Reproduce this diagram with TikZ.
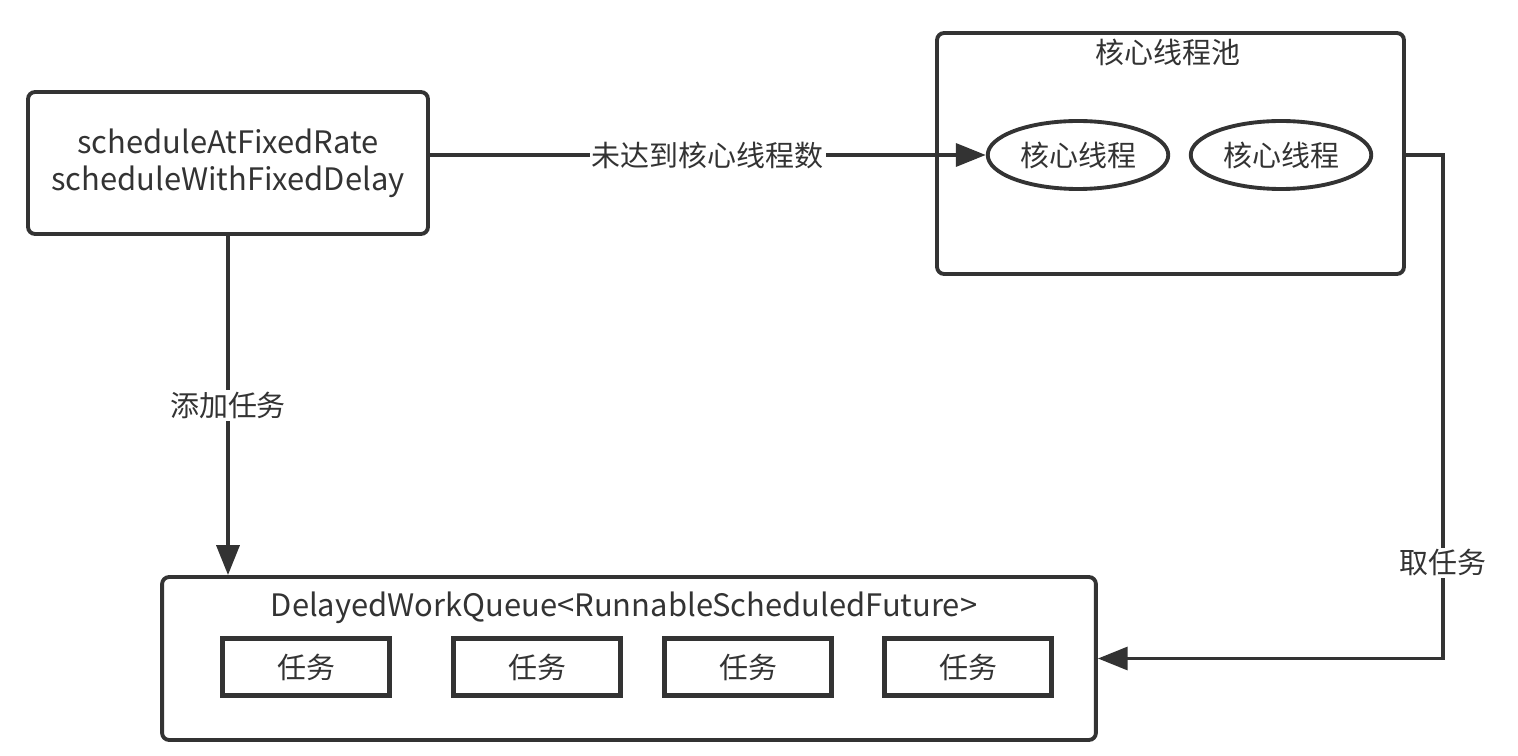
\documentclass[tikz,border=0pt]{standalone}
\usepackage{fontspec}
\setmainfont{Noto Sans CJK SC}
\usetikzlibrary{arrows.meta,shapes.geometric}

\definecolor{ink}{HTML}{333333}

\begin{document}
\begin{tikzpicture}[x=0.02cm, y=-0.02cm, line width=2.2pt, draw=ink, text=ink,
    font=\fontsize{16.5}{19}\selectfont,
    >={Triangle[length=17pt,width=13pt]},
    box/.style={draw, rounded corners=4pt, align=center},
    latin/.style={font=\fontsize{17.6}{21}\selectfont},
    taskbox/.style={draw, line width=2.7pt, minimum width=3.33cm, minimum height=1.13cm},
    thread/.style={draw, ellipse, minimum width=3.38cm, minimum height=1.36cm},
    lbl/.style={fill=white, inner sep=1pt}]
  \useasboundingbox (0,0) rectangle (1518,756);
  % 提交任务的方法
  \node[box, latin, minimum width=8cm, minimum height=2.84cm] (submit) at (228,163)
    {scheduleAtFixedRate\\scheduleWithFixedDelay};
  % 核心线程池
  \node[box, minimum width=9.34cm, minimum height=4.82cm] (pool) at (1170.5,153.5) {};
  \node (pooltitle) at (1168,52) {核心线程池};
  \node[thread] (t1) at (1078,155) {核心线程};
  \node[thread] (t2) at (1281,155) {核心线程};
  % 延迟队列
  \node[box, minimum width=18.68cm, minimum height=3.26cm] (queue) at (629,658.5) {};
  \node[latin] (queuetitle) at (624,608) {DelayedWorkQueue<RunnableScheduledFuture>};
  \foreach \i/\x in {1/306, 2/537, 3/748, 4/968}
    \node[taskbox] (task\i) at (\x,667) {任务};
  % 连线
  \draw[->] (submit.east |- t1) -- node[lbl] {未达到核心线程数} (t1.west);
  \draw[->] (submit.south) -- node[lbl] {添加任务} (submit.south |- queue.north);
  \coordinate (turn) at (1443,155);
  \draw[->] (t2 -| pool.east) -- (turn) -- node[lbl, pos=0.81] {取任务} (turn |- queue.east) -- (queue.east);
\end{tikzpicture}
\end{document}
